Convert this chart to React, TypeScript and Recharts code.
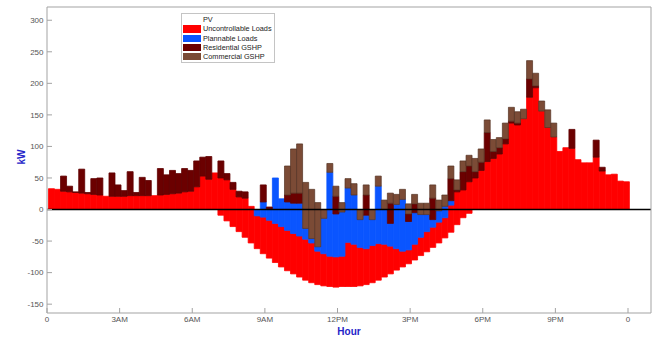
import React from "react";
import { BarChart, Bar, XAxis, YAxis, ReferenceLine, Legend } from "recharts";

// 96 quarter-hour slots over one day
const slotCount = 96;
const slotHours = Array.from({ length: slotCount }, (_, i) => (i + 0.5) * 0.25 + 0.06);

// kW per slot (stacked in this order)
const pv = [
  0, 0, 0, 0, 0, 0, 0, 0, 0, 0, 0, 0, 0, 0, 0, 0, 0, 0, 0, 0, 0, 0, 0, 0, 0, 0, 0, 0,
  -9, -18, -27, -35, -44, -53, -62, -70, -77, -84, -91, -97, -102, -107, -112, -116, -119, -121, -122, -123,
  -122, -122, -122, -121, -119, -116, -112, -107, -102, -96, -91, -86, -80, -73, -67, -60, -53, -45, -36, -24,
  -13, -6,
  0, 0, 0, 0, 0, 0, 0, 0, 0, 0, 0, 0, 0, 0, 0, 0, 0, 0, 0, 0, 0, 0, 0, 0, 0, 0,
];
const uncontrollable = [
  33, 32, 29, 28, 27, 26, 25, 24, 23, 21, 21, 21, 21, 22, 22, 22, 22, 22, 23, 24, 25, 26, 28, 29, 36, 53, 48, 58,
  59, 65, 59, 55, 62, 58, 52, 58, 60, 62, 64, 64, 64, 65, 65, 63, 53, 51, 48, 48,
  48, 70, 67, 61, 57, 59, 58, 52, 44, 34, 25, 22, 25, 29, 32, 32, 33, 32, 43, 52,
  44, 50,
  50, 62, 76, 81, 88, 104, 137, 134, 144, 178, 193, 156, 130, 115, 92, 98, 97, 79, 74, 74, 83, 61, 55, 56, 45, 44,
];
const plannable = [
  0, 0, 0, 0, 0, 0, 0, 0, 0, 0, 0, 0, 0, 0, 0, 0, 0, 0, 0, 0, 0, 0, 0, 0, 0, 0, 0, 0,
  0, 0, 0, 0, 0, 0, 10, 24, 17, 72, 44, 45, 48, 52, 17, 7, 7, 56, 133, 68,
  70, 86, 78, 44, 53, 41, 91, 55, 36, 70, 82, 45, 50, 36, 27, 12, 18, 18, 7, 0,
  0, 0,
  0, 0, 0, 0, 0, 0, 0, 0, 0, 0, 0, 0, 0, 0, 0, 0, 0, 0, 0, 0, 0, 0, 0, 0, 0, 0,
];
const residential = [
  0, 0, 24, 9, 1, 38, 2, 25, 27, 0, 37, 18, 9, 38, 5, 29, 24, 0, 42, 31, 37, 31, 37, 33, 41, 30, 36, 0,
  27, 10, 11, 9, 10, 0, 0, 27, 4, 0, 0, 11, 16, 16, 0, 0, 0, 0, 0, 28,
  0, 0, 0, 0, 32, 0, 0, 0, 32, 0, 0, 12, 14, 0, 0, 34, 0, 0, 35, 3,
  29, 25,
  10, 13, 46, 11, 10, 8, 3, 3, 0, 29, 3, 0, 0, 0, 0, 0, 30, 0, 0, 0, 27, 6, 0, 0, 0, 0,
];
const commercial = [
  0, 0, 0, 0, 0, 0, 0, 0, 0, 0, 0, 0, 0, 0, 0, 0, 0, 0, 0, 0, 0, 0, 0, 0, 0, 0, 0, 0,
  0, 0, 0, 0, 0, 0, 0, 0, 0, 0, 0, 46, 70, 78, 73, 78, 70, 14, 14, 16,
  15, 15, 18, 16, 16, 16, 16, 15, 16, 16, 16, 16, 15, 18, 18, 21, 17, 18, 20, 16,
  17, 17,
  21, 21, 20, 19, 16, 25, 22, 18, 15, 29, 20, 16, 28, 22, 0, 0, 0, 0, 0, 0, 0, 0, 0, 0, 0, 0,
];

const hourTicks = [0, 3, 6, 9, 12, 15, 18, 21, 24];
const hourLabels = ["0", "3AM", "6AM", "9AM", "12PM", "3PM", "6PM", "9PM", "0"];
const kwTicks = [-150, -100, -50, 0, 50, 100, 150, 200, 250, 300];

const series = [
  { key: "pv", name: "PV", color: "#ffffff", edge: "#ffffff", edgeWidth: 0.8 },
  { key: "uncontrollable", name: "Uncontrollable Loads", color: "#ff0000", edge: "#ff0000", edgeWidth: 0.8 },
  { key: "plannable", name: "Plannable Loads", color: "#0a55ff", edge: "#0a55ff", edgeWidth: 0.8 },
  { key: "residential", name: "Residential GSHP", color: "#6b0000", edge: "#600000", edgeWidth: 0.8 },
  { key: "commercial", name: "Commercial GSHP", color: "#7b4b36", edge: "#553222", edgeWidth: 0.7 },
];

const data = slotHours.map((t, i) => ({
  t,
  pv: pv[i],
  uncontrollable: uncontrollable[i],
  plannable: plannable[i],
  residential: residential[i],
  commercial: commercial[i],
}));

const FONT = '"Liberation Sans", Arial, sans-serif';
const AXIS = "#a3a3a3";

const renderLegend = () => (
  <div
    style={{
      width: 94,
      height: 50,
      boxSizing: "border-box",
      border: "1px solid #c4c4c4",
      background: "#fff",
      padding: "1px 0 0 1px",
      fontFamily: FONT,
      fontSize: 7.3,
      color: "#222",
      lineHeight: 1,
    }}
  >
    {series.map((s) => (
      <div key={s.key} style={{ display: "flex", alignItems: "center", height: 9.3 }}>
        <span
          style={{
            display: "inline-block",
            width: 18,
            height: 7.3,
            marginRight: 2,
            background: s.key === "pv" ? "transparent" : s.color,
          }}
        />
        <span style={{ whiteSpace: "nowrap" }}>{s.name}</span>
      </div>
    ))}
  </div>
);

const KwLabel = ({ viewBox }: any) => {
  const cx = viewBox.x + 21;
  const cy = viewBox.y + viewBox.height / 2 - 3;
  return (
    <text
      x={cx}
      y={cy}
      transform={`rotate(-90 ${cx} ${cy})`}
      textAnchor="middle"
      dominantBaseline="central"
      fill="#2424c8"
      fontFamily={FONT}
      fontWeight="bold"
      fontSize={10}
    >
      kW
    </text>
  );
};

const HourLabel = ({ viewBox }: any) => (
  <text
    x={viewBox.x + viewBox.width / 2}
    y={viewBox.y + 21.5}
    textAnchor="middle"
    fill="#2424c8"
    fontFamily={FONT}
    fontWeight="bold"
    fontSize={10}
  >
    Hour
  </text>
);

export default function App() {
  return (
    <div style={{ position: "absolute", left: 0, top: 0, background: "#fff" }}>
      <BarChart
        width={653}
        height={337}
        data={data}
        margin={{ top: 6, right: 1, bottom: 0, left: 0 }}
        barCategoryGap={0}
        barGap={0}
      >
        <XAxis
          dataKey="t"
          type="number"
          domain={[0, 24.95]}
          allowDataOverflow
          ticks={hourTicks}
          tickFormatter={(v: number) => hourLabels[hourTicks.indexOf(v)]}
          height={24}
          tickSize={-5}
          tickMargin={8.5}
          tick={{ fill: "#555", fontSize: 8, fontFamily: FONT }}
          axisLine={{ stroke: AXIS }}
          tickLine={{ stroke: AXIS }}
          label={<HourLabel />}
        />
        <XAxis
          xAxisId="top"
          dataKey="t"
          type="number"
          orientation="top"
          domain={[0, 24.95]}
          allowDataOverflow
          ticks={hourTicks}
          height={1}
          tickSize={-5}
          tick={false}
          axisLine={{ stroke: AXIS }}
          tickLine={{ stroke: AXIS }}
        />
        <YAxis
          domain={[-164, 321]}
          allowDataOverflow
          ticks={kwTicks}
          width={47}
          tickSize={-5}
          tickMargin={8.5}
          tick={{ fill: "#555", fontSize: 8, fontFamily: FONT }}
          axisLine={{ stroke: AXIS }}
          tickLine={{ stroke: AXIS }}
          label={<KwLabel />}
        />
        <YAxis
          yAxisId="right"
          orientation="right"
          domain={[-164, 321]}
          allowDataOverflow
          ticks={kwTicks}
          width={1}
          tickSize={-5}
          tick={false}
          axisLine={{ stroke: AXIS }}
          tickLine={{ stroke: AXIS }}
        />
        <Legend
          layout="vertical"
          align="center"
          verticalAlign="middle"
          content={renderLegend}
          wrapperStyle={{ left: 181, top: 13, width: 94 }}
        />
        {series.map((s) => (
          <Bar
            key={s.key}
            dataKey={s.key}
            name={s.name}
            stackId="load"
            fill={s.color}
            stroke={s.edge}
            strokeWidth={s.edgeWidth}
            isAnimationActive={false}
          />
        ))}
        <ReferenceLine y={0} stroke="#000" strokeWidth={1.6} />
      </BarChart>
    </div>
  );
}
